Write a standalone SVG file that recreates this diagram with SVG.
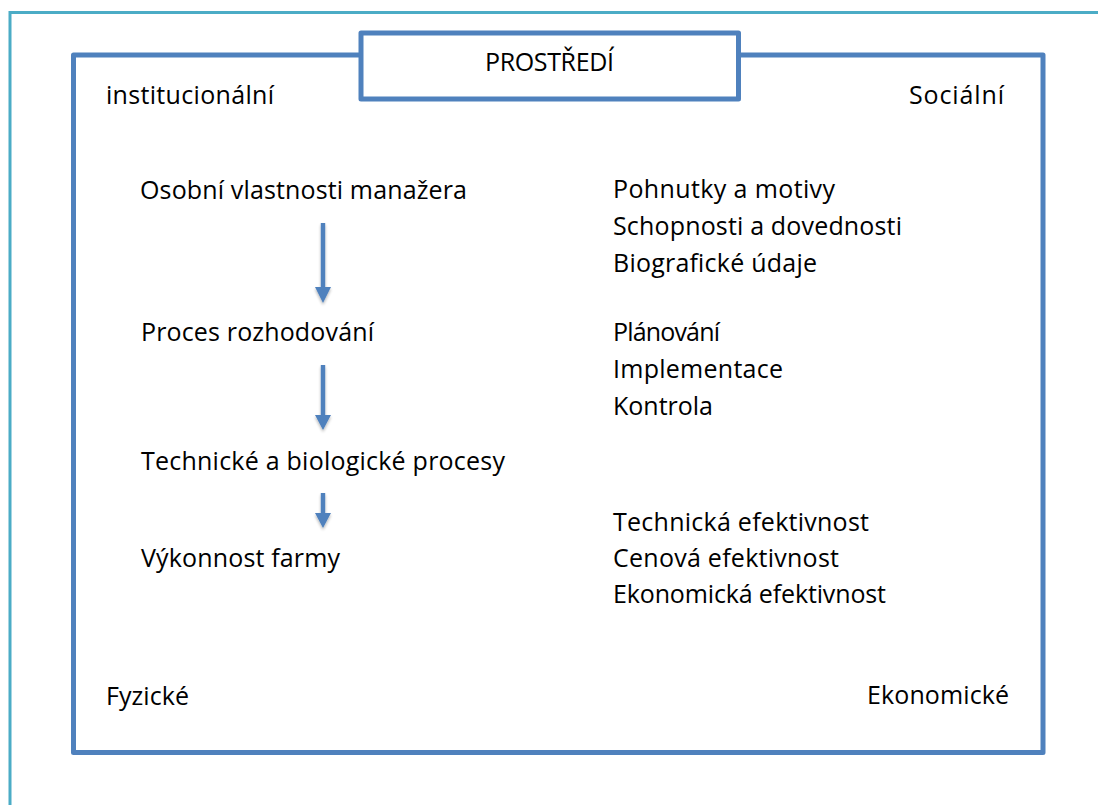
<svg xmlns="http://www.w3.org/2000/svg" width="1098" height="805" viewBox="0 0 1098 805">
<style>
text{font-family:"Open Sans","Liberation Sans",sans-serif;font-size:25px;fill:#000}
.frame{fill:none;stroke:#4BACC6;stroke-width:3}
.box{stroke:#4F81BD;stroke-width:5;stroke-linejoin:round}
.arrow{fill:#4F81BD}
</style>
<defs>
<filter id="sh" x="-50%" y="-50%" width="200%" height="200%">
<feGaussianBlur in="SourceAlpha" stdDeviation="1.5"/>
<feOffset dx="0" dy="2"/>
<feComponentTransfer><feFuncA type="linear" slope="0.3"/></feComponentTransfer>
<feMerge><feMergeNode/><feMergeNode in="SourceGraphic"/></feMerge>
</filter>
</defs>
<rect width="1098" height="805" fill="#fff"/>
<path class="frame" d="M10,805 V12.5 H1098"/>
<g id="environment">
<rect class="box" x="73.5" y="55" width="969.5" height="697.5" fill="none"/>
<text x="106" y="104" textLength="168">institucionální</text>
<text x="909" y="104" textLength="95">Sociální</text>
<text x="106" y="705" textLength="83">Fyzické</text>
<text x="867" y="704" textLength="142">Ekonomické</text>
</g>
<g id="prostredi">
<rect class="box" x="361" y="33" width="377.5" height="66" fill="#fff"/>
<text x="485" y="71" textLength="129">PROSTŘEDÍ</text>
</g>
<g id="n1">
<text x="140" y="199" textLength="327">Osobní vlastnosti manažera</text>
</g>
<g id="n2">
<text x="141" y="341" textLength="233">Proces rozhodování</text>
</g>
<g id="n3">
<text x="141" y="470" textLength="364">Technické a biologické procesy</text>
</g>
<g id="n4">
<text x="141" y="567" textLength="199">Výkonnost farmy</text>
</g>
<g id="d1">
<text x="613" y="198" textLength="222">Pohnutky a motivy</text>
<text x="613" y="235" textLength="289">Schopnosti a dovednosti</text>
<text x="613" y="272" textLength="204">Biografické údaje</text>
</g>
<g id="d2">
<text x="613" y="341" textLength="107">Plánování</text>
<text x="613" y="378" textLength="170">Implementace</text>
<text x="613" y="415" textLength="100">Kontrola</text>
</g>
<g id="d4">
<text x="613" y="531" textLength="256">Technická efektivnost</text>
<text x="613" y="567" textLength="226">Cenová efektivnost</text>
<text x="613" y="603" textLength="273">Ekonomická efektivnost</text>
</g>
<g id="connectors" filter="url(#sh)">
<path class="arrow" d="M320.8,223 H325.2 V287 H331 L323,303 L315,287 H320.8 Z"/>
<path class="arrow" d="M320.8,365 H325.2 V415 H331 L323,430 L315,415 H320.8 Z"/>
<path class="arrow" d="M320.8,493 H325.2 V513 H331 L323,528 L315,513 H320.8 Z"/>
</g>
</svg>
